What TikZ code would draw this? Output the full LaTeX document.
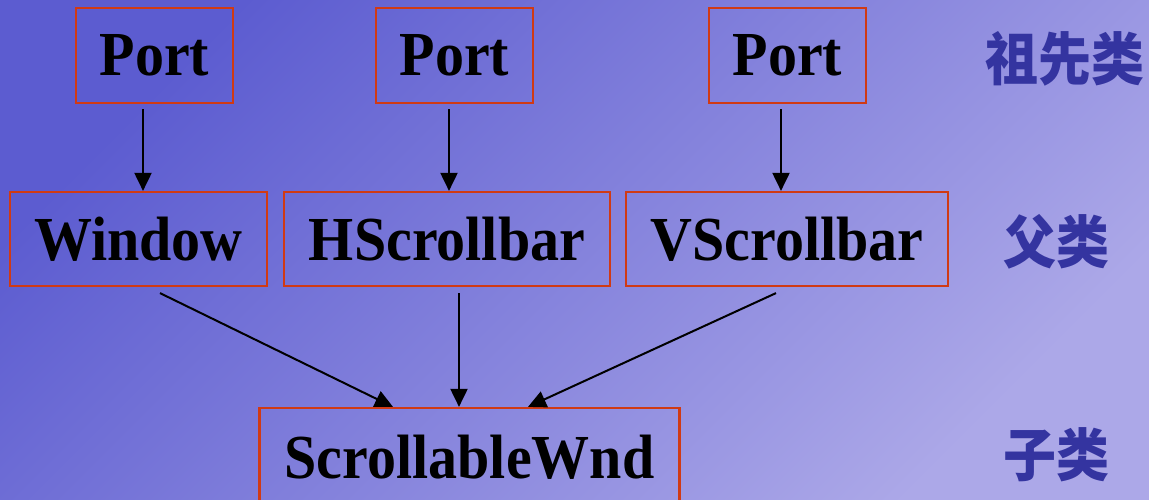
\documentclass[tikz,border=0pt]{standalone}
\usepackage{fontspec}
\setmainfont{Liberation Serif}[BoldFont={Liberation Serif Bold}]
\newfontfamily\cjk{Noto Sans CJK SC}
\usetikzlibrary{arrows.meta}
\definecolor{bgdark}{RGB}{92,92,208}
\definecolor{bglight}{RGB}{172,168,232}
\definecolor{boxedge}{RGB}{208,58,20}
\definecolor{tierblue}{RGB}{52,52,160}
% slightly tall lettering
\newcommand\tallText[1]{\scalebox{1}[1.08]{#1}}
\tikzset{
  classbox/.style={draw=boxedge, line width=2.2pt, inner sep=0pt,
    minimum height=95pt, font=\bfseries\fontsize{58}{60}\selectfont, text=black},
  link/.style={line width=2pt, draw=black,
    -{Triangle[length=18pt,width=17pt]}},
  tier/.style={font=\cjk\bfseries\fontsize{53}{58}\selectfont, text=tierblue}
}
\begin{document}
\begin{tikzpicture}[x=1pt,y=-1pt]
  \clip (0,0) rectangle (1149,500);
  \shade[top color=bgdark, bottom color=bglight, shading angle=45]
    (0,0) rectangle (1149,500);

  % ancestor row
  \node[classbox, minimum width=157pt] (p1) at (154.5,55.5) {\tallText{Port}};
  \node[classbox, minimum width=157pt] (p2) at (454.5,55.5) {\tallText{Port}};
  \node[classbox, minimum width=157pt] (p3) at (787.5,55.5) {\tallText{Port}};

  % parent row
  \node[classbox, minimum width=257pt, minimum height=94pt] (win) at (138.5,239) {\tallText{Window}};
  \node[classbox, minimum width=326pt, minimum height=94pt] (hsb) at (447,239) {\tallText{HScrollbar}};
  \node[classbox, minimum width=322pt, minimum height=94pt] (vsb) at (787,239) {\tallText{VScrollbar}};

  % child
  \node[classbox, minimum width=420pt, minimum height=98pt] (swnd) at (469.5,457) {\tallText{ScrollableWnd}};

  % tier labels
  \node[tier] (t1) at (1065,59) {\tallText{祖先类}};
  \node[tier] (t2) at (1056,242) {\tallText{父类}};
  \node[tier] (t3) at (1056,455) {\tallText{子类}};

  % inheritance links
  \draw[link] ([xshift=-11.5pt,yshift=-5pt]p1.south) -- ([xshift=4.5pt]win.north);
  \draw[link] ([xshift=-5.5pt,yshift=-5pt]p2.south) -- ([xshift=2pt]hsb.north);
  \draw[link] ([xshift=-6.5pt,yshift=-5pt]p3.south) -- ([xshift=-6pt]vsb.north);
  \draw[link] ([xshift=21.5pt,yshift=-6pt]win.south) -- ([xshift=-76.5pt]swnd.north);
  \draw[link] ([xshift=12pt,yshift=-6pt]hsb.south) -- ([xshift=-10.5pt]swnd.north);
  \draw[link] ([xshift=-11pt,yshift=-6pt]vsb.south) -- ([xshift=58.5pt]swnd.north);
\end{tikzpicture}
\end{document}
